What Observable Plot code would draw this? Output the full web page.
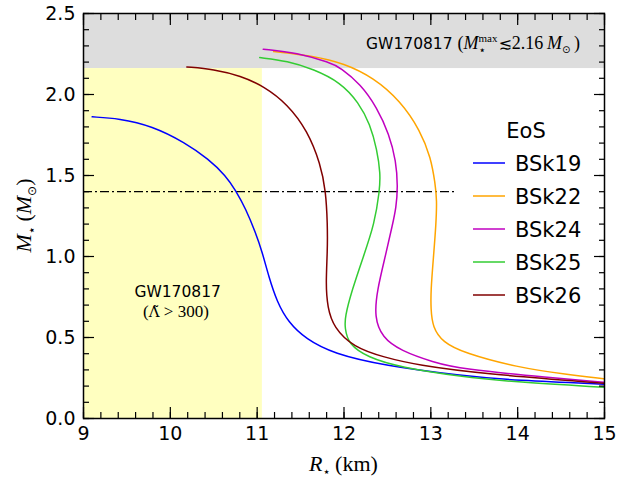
<!DOCTYPE html>
<html><head><meta charset="utf-8">
<script src="https://cdn.jsdelivr.net/npm/d3@7"></script>
<script src="https://cdn.jsdelivr.net/npm/@observablehq/plot@0.6"></script>
<style>body{margin:0;background:#fff;}</style>
</head><body><div id="chart"></div>
<script>
// ---- data ----
const eosNames = ["BSk19", "BSk22", "BSk24", "BSk25", "BSk26"];
const eosColors = ["#0000ff", "#ffa500", "#c000c0", "#33cc33", "#800000"];

const bsk19R = [9.10, 9.41, 9.79, 10.17, 10.44, 10.64, 10.75, 10.87, 10.98, 11.06, 11.13, 11.23, 11.36, 11.56, 11.88, 12.46, 13.34, 13.99, 14.99];
const bsk19M = [1.862, 1.852, 1.806, 1.703, 1.601, 1.498, 1.41, 1.293, 1.149, 1.025, 0.882, 0.717, 0.594, 0.491, 0.40, 0.327, 0.265, 0.234, 0.212];

const bsk22R = [11.19, 11.65, 12.00, 12.34, 12.65, 12.88, 13.00, 13.05, 13.07, 13.06, 13.03, 13.00, 13.00, 13.02, 13.14, 13.38, 13.99, 14.57, 14.99];
const bsk22M = [2.265, 2.238, 2.192, 2.104, 1.96, 1.776, 1.61, 1.45, 1.35, 1.20, 0.994, 0.79, 0.68, 0.563, 0.47, 0.405, 0.316, 0.271, 0.245];

const bsk24R = [11.07, 11.46, 11.84, 11.96, 12.19, 12.38, 12.52, 12.60, 12.62, 12.60, 12.56, 12.48, 12.38, 12.35, 12.44, 12.65, 13.03, 13.34, 14.38, 14.99];
const bsk24M = [2.28, 2.258, 2.197, 2.166, 2.064, 1.92, 1.755, 1.59, 1.43, 1.30, 1.20, 1.01, 0.79, 0.625, 0.50, 0.419, 0.347, 0.306, 0.251, 0.224];

const bsk25R = [11.03, 11.35, 11.65, 11.96, 12.17, 12.30, 12.38, 12.42, 12.41, 12.35, 12.23, 12.09, 12.01, 12.01, 12.05, 12.27, 12.65, 13.34, 13.99, 14.99];
const bsk25M = [2.228, 2.207, 2.156, 2.075, 1.95, 1.817, 1.66, 1.51, 1.406, 1.20, 1.01, 0.79, 0.625, 0.56, 0.46, 0.378, 0.316, 0.259, 0.224, 0.193];

const bsk26R = [10.19, 10.50, 10.81, 11.08, 11.35, 11.58, 11.73, 11.79, 11.81, 11.81, 11.79, 11.81, 11.88, 12.11, 12.46, 12.84, 13.61, 14.99];
const bsk26M = [2.17, 2.156, 2.115, 2.05, 1.94, 1.776, 1.57, 1.406, 1.20, 1.036, 0.83, 0.686, 0.563, 0.44, 0.378, 0.33, 0.275, 0.218];

const seriesR = [bsk19R, bsk22R, bsk24R, bsk25R, bsk26R];
const seriesM = [bsk19M, bsk22M, bsk24M, bsk25M, bsk26M];

const xDomain = [9, 15];
const yDomain = [0, 2.5];
const maxMassLimit = 2.16;      // GW170817 M_max bound
const tidalRadiusLimit = 11.06; // GW170817 Lambda > 300 region edge
const canonicalMass = 1.4;
const canonicalLineEnd = 13.3;

const xMajorTicks = [9, 10, 11, 12, 13, 14, 15];
const yMajorTicks = [0, 0.5, 1.0, 1.5, 2.0, 2.5];
const xMinorTicks = d3.range(9, 15.001, 0.2);
const yMinorTicks = d3.range(0, 2.5001, 0.1);

// ---- build table ----
const rows = eosNames.flatMap((name, i) => seriesR[i].map((r, j) => ({eos: name, R: r, M: seriesM[i][j]})));
const grayBand = [{x1: xDomain[0], x2: xDomain[1], y1: maxMassLimit, y2: yDomain[1]}];
const yellowBand = [{x1: xDomain[0], x2: tidalRadiusLimit, y1: yDomain[0], y2: maxMassLimit}];
const canonLine = [{y: canonicalMass, x1: xDomain[0], x2: canonicalLineEnd}];

const tickStyle = {strokeWidth: 1.2, tickFormat: () => "", label: null};

const chart = Plot.plot({
  width: 618, height: 481,
  marginLeft: 83, marginRight: 14, marginTop: 13, marginBottom: 63,
  style: {fontFamily: "DejaVu Sans", fontSize: "19px", background: "white", color: "black", overflow: "visible"},
  x: {domain: xDomain},
  y: {domain: yDomain},
  color: {domain: eosNames, range: eosColors},
  marks: [
    Plot.rect(grayBand, {x1: "x1", x2: "x2", y1: "y1", y2: "y2", fill: "#dddddd"}),
    Plot.rect(yellowBand, {x1: "x1", x2: "x2", y1: "y1", y2: "y2", fill: "#ffffc0"}),
    Plot.ruleY(canonLine, {y: "y", x1: "x1", x2: "x2", stroke: "black", strokeWidth: 1.3, strokeDasharray: "9,3,2,3"}),
    Plot.line(rows, {x: "R", y: "M", z: "eos", stroke: "eos", strokeWidth: 1.5, curve: "basis"}),
    Plot.axisX(xMajorTicks, {anchor: "bottom", tickSize: 0, tickPadding: 8, fontSize: 19, label: null}),
    Plot.axisY(yMajorTicks, {anchor: "left", tickSize: 0, tickPadding: 8, fontSize: 19, tickFormat: d3.format(".1f"), label: null}),
    Plot.axisX(xMinorTicks, {anchor: "bottom", tickSize: -6, ...tickStyle}),
    Plot.axisX(xMinorTicks, {anchor: "top", tickSize: -6, ...tickStyle}),
    Plot.axisX(xMajorTicks, {anchor: "bottom", tickSize: -11, ...tickStyle}),
    Plot.axisX(xMajorTicks, {anchor: "top", tickSize: -11, ...tickStyle}),
    Plot.axisY(yMinorTicks, {anchor: "left", tickSize: -6, ...tickStyle}),
    Plot.axisY(yMinorTicks, {anchor: "right", tickSize: -6, ...tickStyle}),
    Plot.axisY(yMajorTicks, {anchor: "left", tickSize: -11, ...tickStyle}),
    Plot.axisY(yMajorTicks, {anchor: "right", tickSize: -11, ...tickStyle}),
    Plot.frame({stroke: "black", strokeWidth: 1.5})
  ]
});
document.getElementById("chart").appendChild(chart);

// ---- annotations, labels, legend ----
const svg = d3.select(chart);
const sx = chart.scale("x"), sy = chart.scale("y");
const SERIF = "Liberation Serif";
const SANS = "DejaVu Sans";

// pieces: {t, family, size, italic, dy (relative to baseline), dx, stack (start at previous piece start)}
function rich(g, x, y, pieces, anchor = "start", rotate = false) {
  const grp = g.append("g").attr("text-anchor", "start");
  let cursor = 0, prevStart = 0, prevEnd = 0;
  for (const p of pieces) {
    const start = (p.stack ? prevStart : cursor) + (p.dx || 0);
    const t = grp.append("text")
      .attr("x", start).attr("y", p.dy || 0)
      .attr("text-anchor", "start")
      .attr("font-family", p.family || SERIF)
      .attr("font-size", p.size)
      .attr("font-style", p.italic ? "italic" : "normal")
      .attr("fill", "black")
      .text(p.t);
    const w = t.node().getComputedTextLength();
    if (p.stack) { cursor = Math.max(prevEnd, start + w); }
    else { prevStart = start; prevEnd = start + w; cursor = start + w; }
  }
  const shift = anchor === "middle" ? -cursor / 2 : 0;
  grp.attr("transform", `translate(${x},${y})${rotate ? " rotate(-90)" : ""} translate(${shift},0)`);
  return grp;
}

// Top annotation
rich(svg, sx.apply(12.26), sy.apply(2.275), [
  {t: "GW170817 ", family: SANS, size: 15.5},
  {t: "(", size: 18},
  {t: "M", size: 18, italic: true},
  {t: "max", size: 11, dy: -7},
  {t: "\u22C6", size: 12, dy: 5, stack: true, family: SANS},
  {t: "\u2272", size: 16, family: SANS, dx: 1},
  {t: "2.16\u2009", size: 18},
  {t: "M", size: 18, italic: true},
  {t: "\u2299", size: 10, dy: 4, family: SANS},
  {t: "\u2009)", size: 18}
]);

// Yellow region annotation
rich(svg, sx.apply(10.09), sy.apply(0.746), [{t: "GW170817", family: SANS, size: 15.5}], "middle");
rich(svg, sx.apply(10.07), sy.apply(0.623), [
  {t: "(", size: 17},
  {t: "\u039B\u0303", size: 15, family: "DejaVu Serif"},
  {t: " > 300)", size: 17}
], "middle");

// Axis labels
rich(svg, (sx.range[0] + sx.range[1]) / 2, 471, [
  {t: "R", size: 22, italic: true},
  {t: "\u22C6", size: 13, dy: 5, family: SANS},
  {t: "\u2009(km)", size: 22}
], "middle");
rich(svg, 31, (sy.range[0] + sy.range[1]) / 2, [
  {t: "M", size: 22, italic: true},
  {t: "\u22C6", size: 13, dy: 5, family: SANS},
  {t: "\u2009(", size: 22},
  {t: "M", size: 22, italic: true},
  {t: "\u2299", size: 12, dy: 5, family: SANS},
  {t: ")", size: 22}
], "middle", true);

// Legend
const lg = svg.append("g").attr("font-family", SANS);
lg.append("text").attr("x", 526).attr("y", 138).attr("text-anchor", "middle")
  .attr("font-size", 21).attr("fill", "black").text("EoS");
eosNames.forEach((name, i) => {
  const yy = 163 + i * 33;
  lg.append("line").attr("x1", 473).attr("x2", 505).attr("y1", yy).attr("y2", yy)
    .attr("stroke", eosColors[i]).attr("stroke-width", 1.5);
  lg.append("text").attr("x", 515).attr("y", yy).attr("dy", "0.36em").attr("text-anchor", "start")
    .attr("font-size", 21).attr("fill", "black").text(name);
});
</script>
</body></html>
